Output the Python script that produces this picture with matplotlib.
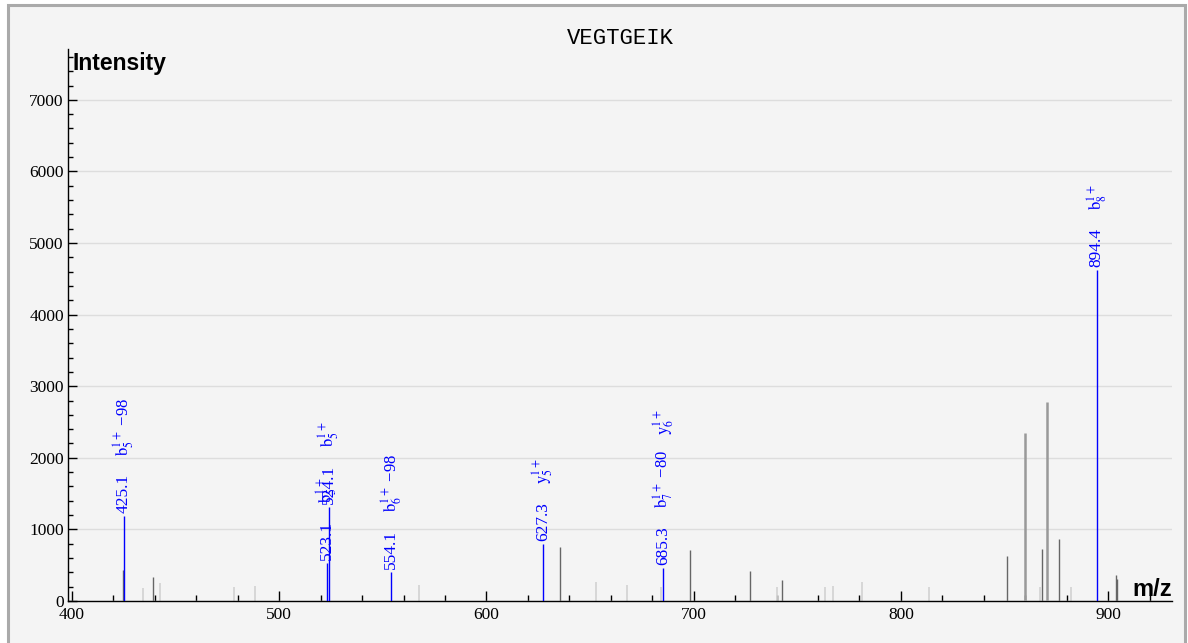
import matplotlib
matplotlib.use("Agg")
import matplotlib.pyplot as plt
from matplotlib.ticker import MultipleLocator
from matplotlib.patches import Rectangle

# ---------------- data ----------------
title = "VEGTGEIK"

# annotated (matched) peaks
annot_mz = [425.1, 523.1, 524.1, 554.1, 627.3, 685.3, 894.4]
annot_int = [1187, 526, 1315, 409, 792, 456, 4620]
annot_labels = [
    [r"$\mathrm{b}_5^{1+}$ −98"],
    [r"$\mathrm{b}_5^{1+}$"],
    [r"$\mathrm{b}_5^{1+}$"],
    [r"$\mathrm{b}_6^{1+}$ −98"],
    [r"$\mathrm{y}_5^{1+}$"],
    [r"$\mathrm{b}_7^{1+}$ −80", r"$\mathrm{y}_6^{1+}$"],
    [r"$\mathrm{b}_8^{1+}$"],
]

# unmatched peaks (dark)
dark_mz = [424.4, 439.2, 635.3, 698.1, 727.4, 742.4, 851.4, 868.3, 876.3, 903.8, 904.3]
dark_int = [433, 335, 754, 712, 419, 293, 633, 726, 866, 363, 310]

# unmatched strong peaks (medium grey)
mid_mz = [859.7, 870.3]
mid_int = [2351, 2775]

# unmatched weak peaks (light)
light_mz = [434.1, 442.3, 478.3, 488.3, 567.4, 653.1, 668.0, 684.1, 740.0,
            763.4, 767.3, 781.2, 813.4, 867.3, 882.2]
light_int = [177, 251, 200, 210, 223, 270, 223, 200, 191,
             191, 209, 265, 191, 200, 200]

x_ticks = [400, 500, 600, 700, 800, 900]
y_ticks = [0, 1000, 2000, 3000, 4000, 5000, 6000, 7000]

# ---------------- figure ----------------
plt.rcParams["mathtext.fontset"] = "stix"
W, H = 1188, 643
fig = plt.figure(figsize=(W / 100, H / 100), dpi=100, facecolor="white")

# outer panel with grey border
fig.patches.append(Rectangle((8 / W, -0.05), (1185 - 8) / W, 1 - 5 / H + 0.05,
                             transform=fig.transFigure, facecolor="#f4f4f4",
                             edgecolor="#aaaaaa", linewidth=2.2, zorder=-10))

ax = fig.add_axes([68 / W, 1 - 601 / H, (1172 - 68) / W, (601 - 49) / H])
ax.set_zorder(1)
ax.set_facecolor("#f4f4f4")
ax.patch.set_alpha(0)

ax.set_xlim(398.1, 930.8)
ax.set_ylim(0, 7710)

for s in ("top", "right"):
    ax.spines[s].set_visible(False)
for s in ("left", "bottom"):
    ax.spines[s].set_color("black")
    ax.spines[s].set_linewidth(1.0)

ax.yaxis.grid(True, color="#dddddd", linewidth=1.0)
ax.set_axisbelow(True)

ax.set_xticks(x_ticks)
ax.set_xticklabels([str(v) for v in x_ticks])
ax.set_yticks(y_ticks)
ax.set_yticklabels([str(v) for v in y_ticks])
ax.xaxis.set_minor_locator(MultipleLocator(20))
ax.yaxis.set_minor_locator(MultipleLocator(200))
ax.tick_params(axis="x", which="major", direction="in", length=7.2, width=1, pad=4)
ax.tick_params(axis="x", which="minor", direction="in", length=4.3, width=1)
ax.tick_params(axis="y", which="major", direction="in", length=6.5, width=1, pad=3)
ax.tick_params(axis="y", which="minor", direction="in", length=3.6, width=1)
for lab in ax.get_xticklabels() + ax.get_yticklabels():
    lab.set_fontfamily("Liberation Serif")
    lab.set_fontsize(12.5)

# peaks
ax.vlines(light_mz, 0, light_int, colors="#d4d4d4", linewidth=1.3, zorder=2)
ax.vlines(dark_mz, 0, dark_int, colors="#666666", linewidth=1.0, zorder=3)
ax.vlines(mid_mz, 0, mid_int, colors="#999999", linewidth=1.8, zorder=3)
ax.vlines(annot_mz, 0, annot_int, colors="#0000ff", linewidth=1.0, zorder=4)

# labels
fig.canvas.draw()
renderer = fig.canvas.get_renderer()
for mz, inten, labs in zip(annot_mz, annot_int, annot_labels):
    ax.annotate(f"{mz:.1f}", xy=(mz, inten), xytext=(0, 3), textcoords="offset pixels",
                rotation=90, ha="center", va="bottom", color="#0000ff",
                fontfamily="Liberation Serif", fontsize=12.5, zorder=5)
    off = 60
    for lab in labs:
        t = ax.annotate(lab, xy=(mz, inten), xytext=(0, off), textcoords="offset pixels",
                        rotation=90, ha="center", va="bottom", color="#0000ff",
                        fontfamily="Liberation Serif", fontsize=12, zorder=5)
        bb = t.get_window_extent(renderer)
        off += bb.height + 15

ax.set_title(title, fontfamily="Liberation Mono", fontsize=16, pad=3)
ax.text(73 / W, 1 - 70 / H, "Intensity", transform=fig.transFigure,
        fontfamily="Liberation Sans", fontweight="bold", fontsize=16.5,
        ha="left", va="baseline")
ax.text(1172 / W, 1 - 596 / H, "m/z", transform=fig.transFigure,
        fontfamily="Liberation Sans", fontweight="bold", fontsize=17,
        ha="right", va="baseline")

fig.savefig("out.png", dpi=100, facecolor="white")
